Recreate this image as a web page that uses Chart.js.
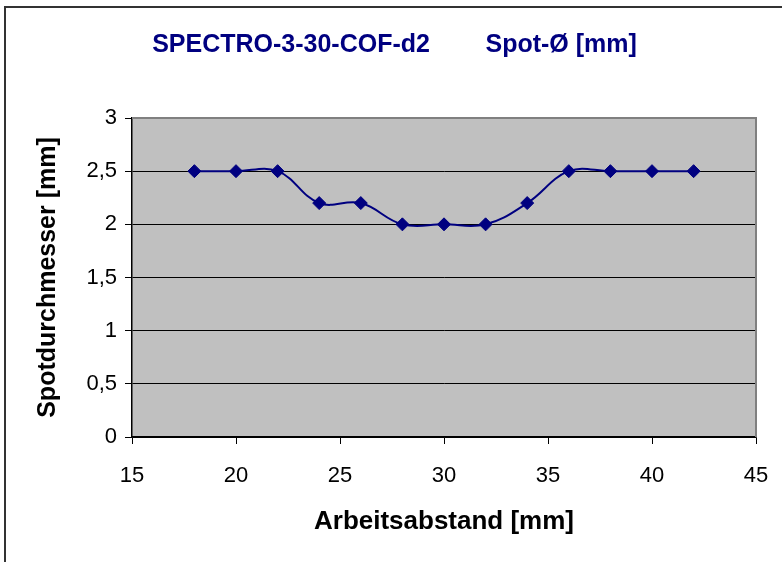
<!DOCTYPE html>
<html>
<head>
<meta charset="utf-8">
<script src="https://cdn.jsdelivr.net/npm/chart.js@4/dist/chart.umd.min.js"></script>
<style>
  html, body { margin: 0; padding: 0; background: #fff; }
  #wrap { width: 782px; height: 562px; }
</style>
</head>
<body>
<div id="wrap"><canvas id="grafico" width="782" height="562"></canvas></div>
<script>
// ===== DADOS =====
const abstand = [18, 20, 22, 24, 26, 28, 30, 32, 34, 36, 38, 40, 42];
const spot    = [2.5, 2.5, 2.5, 2.2, 2.2, 2.0, 2.0, 2.0, 2.2, 2.5, 2.5, 2.5, 2.5];
const titelText = 'SPECTRO-3-30-COF-d2        Spot-Ø [mm]';
const xTitel = 'Arbeitsabstand [mm]';
const yTitel = 'Spotdurchmesser [mm]';

const NAVY = '#000080';
const FONT = '"Liberation Sans", Arial, sans-serif';

// fundo cinza + moldura
const moldura = {
  id: 'moldura',
  beforeDraw(chart) {
    const { ctx, chartArea: a } = chart;
    ctx.save();
    ctx.fillStyle = '#C0C0C0';
    ctx.fillRect(a.left, a.top, a.right - a.left, a.bottom - a.top);
    // borda externa (esq + topo)
    ctx.strokeStyle = '#333';
    ctx.lineWidth = 2;
    ctx.beginPath();
    ctx.moveTo(5, 562);
    ctx.lineTo(5, 7);
    ctx.lineTo(782, 7);
    ctx.stroke();
    ctx.restore();
  },
  afterDatasetsDraw(chart) {
    const { ctx, chartArea: a } = chart;
    ctx.save();
    ctx.strokeStyle = '#808080';
    ctx.lineWidth = 2;
    ctx.beginPath();
    ctx.moveTo(a.left, a.top);
    ctx.lineTo(a.right, a.top);
    ctx.lineTo(a.right, a.bottom);
    ctx.stroke();
    ctx.restore();
  }
};

const ctx = document.getElementById('grafico').getContext('2d');
new Chart(ctx, {
  type: 'scatter',
  data: {
    datasets: [{
      data: abstand.map((x, i) => ({ x, y: spot[i] })),
      showLine: true,
      borderColor: NAVY,
      borderWidth: 2,
      tension: 0.4,
      pointStyle: 'rectRot',
      pointRadius: 6.5,
      pointBackgroundColor: NAVY,
      pointBorderColor: NAVY,
      pointBorderWidth: 1,
    }]
  },
  plugins: [moldura],
  options: {
    responsive: false,
    animation: false,
    layout: { padding: { left: 33, right: 26, top: 0, bottom: 25 } },
    plugins: {
      legend: { display: false },
      tooltip: { enabled: false },
      title: {
        display: true,
        text: titelText,
        color: NAVY,
        font: { family: FONT, size: 25, weight: 'bold' },
        padding: { top: 30, bottom: 58 }
      }
    },
    scales: {
      x: {
        type: 'linear',
        min: 15, max: 45,
        ticks: { stepSize: 5, color: '#000', font: { family: FONT, size: 22 }, padding: 19 },
        grid: { drawOnChartArea: false, drawTicks: true, tickLength: 7, tickColor: '#000' },
        border: { color: '#000', width: 1.5 },
        title: { display: true, text: xTitel, color: '#000', font: { family: FONT, size: 26, weight: 'bold' }, padding: { top: 0, bottom: 0 } },
        afterFit: s => { s.height = 100; s.paddingLeft = 0; s.paddingRight = 0; }
      },
      y: {
        min: 0, max: 3,
        ticks: {
          stepSize: 0.5, color: '#000', font: { family: FONT, size: 22 }, padding: 8,
          callback: v => String(v).replace('.', ',')
        },
        grid: { color: '#000', lineWidth: 1, tickLength: 7, tickColor: '#000' },
        border: { color: '#000', width: 1.5 },
        title: { display: true, text: yTitel, color: '#000', font: { family: FONT, size: 25, weight: 'bold' }, padding: { top: 0, bottom: 0 } },
        afterFit: s => { s.width = 99; }
      }
    }
  }
});
</script>
</body>
</html>
